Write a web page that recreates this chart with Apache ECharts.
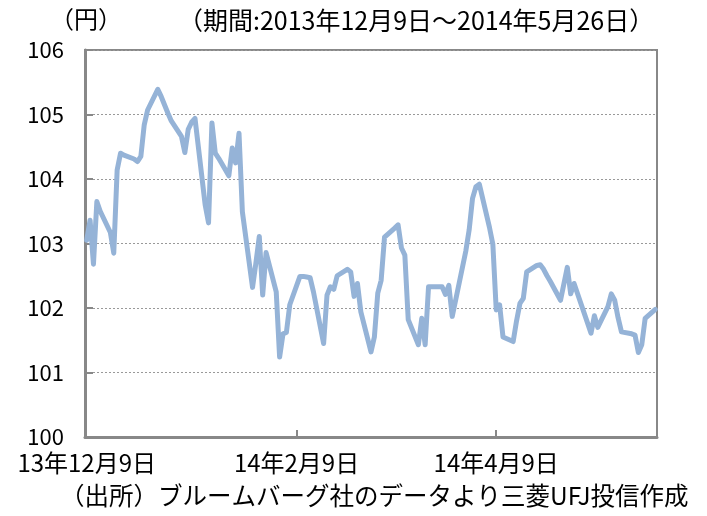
<!DOCTYPE html>
<html>
<head>
<meta charset="utf-8">
<script src="https://cdn.jsdelivr.net/npm/echarts@6/dist/echarts.min.js"></script>
<style>
html,body{margin:0;padding:0;background:#fff;}
#c{width:707px;height:516px;}
</style>
</head>
<body>
<div id="c"></div>
<script>
var dates = [
'2013-12-09','2013-12-10','2013-12-11','2013-12-12','2013-12-13','2013-12-16','2013-12-17','2013-12-18','2013-12-19','2013-12-20',
'2013-12-23','2013-12-24','2013-12-25','2013-12-26','2013-12-27','2013-12-30','2013-12-31','2014-01-02','2014-01-03','2014-01-06',
'2014-01-07','2014-01-08','2014-01-09','2014-01-10','2014-01-13','2014-01-14','2014-01-15','2014-01-16','2014-01-17','2014-01-20',
'2014-01-21','2014-01-22','2014-01-23','2014-01-24','2014-01-27','2014-01-28','2014-01-29','2014-01-30','2014-01-31','2014-02-03',
'2014-02-04','2014-02-05','2014-02-06','2014-02-07','2014-02-10','2014-02-11','2014-02-12','2014-02-13','2014-02-14','2014-02-17',
'2014-02-18','2014-02-19','2014-02-20','2014-02-21','2014-02-24','2014-02-25','2014-02-26','2014-02-27','2014-02-28','2014-03-03',
'2014-03-04','2014-03-05','2014-03-06','2014-03-07','2014-03-10','2014-03-11','2014-03-12','2014-03-13','2014-03-14','2014-03-17',
'2014-03-18','2014-03-19','2014-03-20','2014-03-21','2014-03-24','2014-03-25','2014-03-26','2014-03-27','2014-03-28','2014-03-31',
'2014-04-01','2014-04-02','2014-04-03','2014-04-04','2014-04-07','2014-04-08','2014-04-09','2014-04-10','2014-04-11','2014-04-14',
'2014-04-15','2014-04-16','2014-04-17','2014-04-18','2014-04-21','2014-04-22','2014-04-23','2014-04-24','2014-04-25','2014-04-28',
'2014-04-30','2014-05-01','2014-05-02','2014-05-07','2014-05-08','2014-05-09','2014-05-12','2014-05-13','2014-05-14','2014-05-15',
'2014-05-16','2014-05-19','2014-05-20','2014-05-21','2014-05-22','2014-05-23','2014-05-26'
];
var values = [
103.05,103.36,102.68,103.65,103.50,103.17,102.85,104.14,104.40,104.37,
104.31,104.27,104.35,104.84,105.07,105.39,105.28,105.02,104.90,104.66,
104.41,104.77,104.88,104.94,103.60,103.32,104.87,104.40,104.32,104.05,
104.48,104.25,104.71,103.49,102.32,102.70,103.11,102.20,102.86,102.25,
101.24,101.60,101.62,102.05,102.49,102.49,102.48,102.47,102.25,101.45,
102.20,102.33,102.29,102.50,102.60,102.56,102.18,102.38,101.94,101.32,
101.55,102.23,102.43,103.10,103.24,103.29,102.93,102.82,101.82,101.43,
101.84,101.43,102.33,102.33,102.33,102.21,102.35,101.87,102.12,102.88,
103.21,103.70,103.88,103.92,103.25,102.99,101.97,102.05,101.55,101.48,
101.80,102.07,102.15,102.56,102.66,102.67,102.60,102.50,102.41,102.12,
102.63,102.22,102.38,101.61,101.88,101.70,102.02,102.22,102.12,101.85,
101.63,101.60,101.58,101.31,101.43,101.84,101.98
];
var tickDates = ['2013-12-09','2014-02-09','2014-04-09'];
var yTicks = [100,101,102,103,104,105,106];

function ts(s, h){ var p = s.split('-'); return new Date(+p[0], +p[1]-1, +p[2], h||0).getTime(); }
var seriesData = dates.map(function(d,i){ return [ts(d), values[i]]; });
var labelVals = tickDates.map(function(d){ return ts(d); });

var FONT = '"Noto Sans CJK JP", sans-serif';
var chart = echarts.init(document.getElementById('c'));
chart.setOption({
  animation:false,
  backgroundColor:'#fff',
  title:[
    {text:'（円）', left:50, top:7, padding:0, textStyle:{fontFamily:FONT, fontSize:24, fontWeight:'normal', color:'#000'}},
    {text:'（期間:2013年12月9日～2014年5月26日）', left:178, top:8, padding:0, textStyle:{fontFamily:FONT, fontSize:25, fontWeight:'normal', color:'#000'}},
    {text:'（出所）ブルームバーグ社のデータより三菱UFJ投信作成', left:60, top:483, padding:0, textStyle:{fontFamily:FONT, fontSize:24.5, fontWeight:'normal', color:'#000'}}
  ],
  grid:{left:85, right:50, top:50, bottom:79, show:true, borderColor:'#888', borderWidth:2, backgroundColor:'transparent'},
  xAxis:{
    type:'value',
    min: ts('2013-12-08',12),
    max: ts('2014-05-26',12),
    axisLine:{show:true, lineStyle:{color:'#888', width:3}},
    axisTick:{show:true, inside:true, length:7, lineStyle:{color:'#888', width:2}, customValues:[ts('2014-02-09'), ts('2014-04-09')]},
    splitLine:{show:false},
    axisLabel:{
      customValues: labelVals,
      fontFamily:FONT, fontSize:24, color:'#000', margin:14,
      formatter:function(v){ var d=new Date(v); return (d.getFullYear()%100)+'年'+(d.getMonth()+1)+'月'+d.getDate()+'日'; }
    }
  },
  yAxis:{
    type:'value', min:100, max:106, interval:1,
    axisLine:{show:true, lineStyle:{color:'#888', width:3}},
    axisTick:{show:true, inside:true, length:8, lineStyle:{color:'#888', width:2}},
    splitLine:{show:true, lineStyle:{color:'#999', type:[2,2], width:1}},
    axisLabel:{fontFamily:FONT, fontSize:22, color:'#000', margin:21,
      formatter:function(v){ return yTicks.indexOf(v)>=0 ? String(v) : ''; }}
  },
  series:[{
    type:'line', data:seriesData, showSymbol:false, symbol:'none',
    lineStyle:{color:'#95B3D7', width:5, join:'round', cap:'round'},
    itemStyle:{color:'#95B3D7'}
  }]
});
</script>
</body>
</html>
